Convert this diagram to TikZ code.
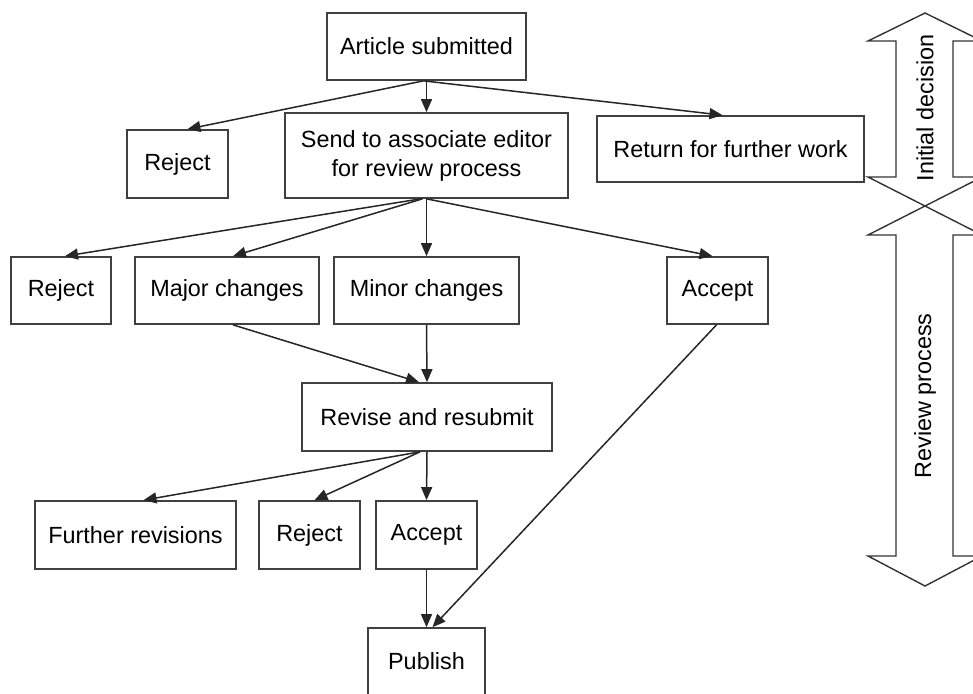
\documentclass[tikz,border=0pt]{standalone}
\usepackage{fontspec}
\setmainfont{Liberation Sans}
\usepackage{tikz}
\usetikzlibrary{arrows.meta, positioning, calc}

\begin{document}
\begin{tikzpicture}[
    x=1pt, y=-1pt,
    box/.style={draw=black!75, line width=1.7pt, rectangle, minimum height=67pt, inner sep=0pt, align=center, font=\fontsize{23.4}{29}\selectfont},
    line/.style={draw=black!85, line width=1.5pt, -{Triangle[length=13pt, width=11pt]}},
    bigarrow/.style={draw=black!80, line width=1.4pt, line join=miter},
    phase/.style={rotate=90, font=\fontsize{23.4}{29}\selectfont}
]
    \useasboundingbox (0,0) rectangle (973,693);

    % Initial decision
    \node[box, minimum width=199pt] (art) at (426.5,46.5) {Article submitted};
    \node[box, minimum width=101pt, minimum height=68pt] (rejA) at (177.5,164) {Reject};
    \node[box, minimum width=283pt, minimum height=85pt] (send) at (426.5,155.5) {Send to associate editor\\for review process};
    \node[box, minimum width=267pt, minimum height=66pt] (ret) at (730.5,149) {Return for further work};

    % Review outcomes
    \node[box, minimum width=100pt] (rejB) at (61,290.5) {Reject};
    \node[box, minimum width=184pt] (major) at (227,290.5) {Major changes};
    \node[box, minimum width=185pt] (minor) at (426.5,290.5) {Minor changes};
    \node[box, minimum width=101pt] (accA) at (717.5,290.5) {Accept};

    \node[box, minimum width=250pt, minimum height=68pt] (revise) at (427,417) {Revise and resubmit};

    \node[box, minimum width=201pt, minimum height=68pt] (further) at (135.5,535) {Further revisions};
    \node[box, minimum width=101pt, minimum height=68pt] (rejC) at (309.5,535) {Reject};
    \node[box, minimum width=101pt, minimum height=68pt] (accB) at (426.5,535) {Accept};

    \node[box, minimum width=117pt] (pub) at (426.5,661.5) {Publish};

    % Arrows from the first decision
    \draw[line] ($(art.south)+(-3,0)$) -- ($(rejA.north)+(10,0)$);
    \draw[line] (art.south) -- (send.north);
    \draw[line] ($(art.south)+(-3,0)$) -- ($(ret.north)+(-8,0)$);

    % Arrows from the review
    \draw[line] ($(send.south)+(-6,0)$) -- ($(rejB.north)+(4,0)$);
    \draw[line] ($(send.south)+(-4,0)$) -- ($(major.north)+(6,0)$);
    \draw[line] (send.south) -- (minor.north);
    \draw[line] (send.south) -- ($(accA.north)+(-5,0)$);

    \draw[line] ($(major.south)+(6,0)$) -- ($(revise.north)+(-8,0)$);
    \draw[line] (minor.south) -- (revise.north);

    \draw[line] ($(revise.south)+(-7,0)$) -- ($(further.north)+(8,0)$);
    \draw[line] ($(revise.south)+(-7,0)$) -- ($(rejC.north)+(5,0)$);
    \draw[line] (revise.south) -- (accB.north);

    \draw[line] (accB.south) -- (pub.north);
    \draw[line] ($(accA.south)+(-1,0)$) -- ($(pub.north)+(6,0)$);

    % Phase arrows on the right
    \draw[bigarrow] (925,13) -- (982,41) -- (953,41) -- (953,177) -- (982,177) -- (868,235)
        -- (896,235) -- (896,556) -- (868,556) -- (925,586) -- (982,556) -- (953,556)
        -- (953,235) -- (982,235) -- (868,177) -- (896,177) -- (896,41) -- (868,41) -- cycle;
    \node[phase] (initial) at (925,108) {Initial decision};
    \node[phase] (review) at (925,396) {Review process};
\end{tikzpicture}
\end{document}
